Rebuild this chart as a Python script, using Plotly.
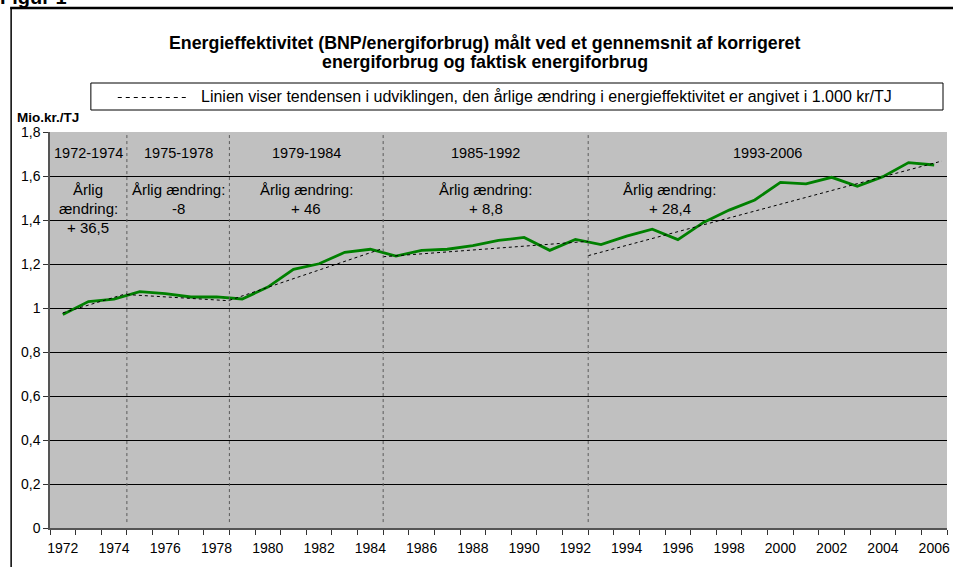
import plotly.graph_objects as go

# ---------------- data ----------------
years = list(range(1972, 2007))
efficiency = [0.970, 1.029, 1.040, 1.074, 1.065, 1.050, 1.051, 1.041, 1.095, 1.176,
              1.201, 1.253, 1.267, 1.236, 1.262, 1.267, 1.283, 1.307, 1.321, 1.262,
              1.312, 1.288, 1.327, 1.358, 1.311, 1.389, 1.445, 1.491, 1.571, 1.564,
              1.594, 1.553, 1.597, 1.661, 1.650]
period_start = [1972, 1975, 1979, 1985, 1993]
period_end = [1974, 1978, 1984, 1992, 2006]
period_labels = ["1972-1974", "1975-1978", "1979-1984", "1985-1992", "1993-2006"]
change_labels = [["Årlig", "ændring:", "+ 36,5"],
                 ["Årlig ændring:", "-8"],
                 ["Årlig ændring:", "+ 46"],
                 ["Årlig ændring:", "+ 8,8"],
                 ["Årlig ændring:", "+ 28,4"]]
# trend lines: start/end year and value for each period
trend_x0 = [1972.0, 1974.5, 1978.5, 1984.5, 1992.5]
trend_y0 = [0.978, 1.061, 1.035, 1.233, 1.238]
trend_x1 = [1974.5, 1978.5, 1984.5, 1992.5, 2006.3]
trend_y1 = [1.066, 1.033, 1.271, 1.303, 1.668]
title_lines = ["Energieffektivitet (BNP/energiforbrug) målt ved et gennemsnit af korrigeret",
               "energiforbrug og faktisk energiforbrug"]
legend_text = ("Linien viser tendensen i udviklingen, den årlige ændring i "
               "energieffektivitet er angivet i 1.000 kr/TJ")
y_unit = "Mio.kr./TJ"

# ---------------- layout geometry ----------------
W, H = 953, 567
L, R, T, B = 50, 950, 132, 528
FONT = "Arial, 'Liberation Sans', sans-serif"


def xp(px):
    return (px - L) / (R - L)


def yp(py):
    return (B - py) / (B - T)


def xd(px):
    return 1971.5 + (px - L) / (R - L) * 35


fig = go.Figure()

fig.add_trace(go.Scatter(x=years, y=efficiency, mode="lines",
                         line=dict(color="#008000", width=2.8),
                         showlegend=False, hoverinfo="x+y"))

for x0, y0, x1, y1 in zip(trend_x0, trend_y0, trend_x1, trend_y1):
    fig.add_trace(go.Scatter(x=[x0, x1], y=[y0, y1], mode="lines",
                             line=dict(color="black", width=1, dash="3px,3px"),
                             showlegend=False, hoverinfo="skip"))

shapes = []
for e in period_end[:-1]:
    shapes.append(dict(type="line", xref="x", yref="y", x0=e + 0.5, x1=e + 0.5,
                       y0=0.027, y1=1.79, line=dict(color="#5a5a5a", width=1, dash="dot")))

# legend box
shapes.append(dict(type="rect", xref="paper", yref="paper", x0=xp(91), x1=xp(946),
                   y0=yp(110), y1=yp(83), line=dict(color="black", width=1),
                   fillcolor="white"))
shapes.append(dict(type="line", xref="paper", yref="paper", x0=xp(118), x1=xp(187),
                   y0=yp(97.5), y1=yp(97.5), line=dict(color="black", width=1, dash="4px,4px")))
# outer frame
shapes.append(dict(type="line", xref="paper", yref="paper", x0=xp(10), x1=xp(970),
                   y0=yp(8), y1=yp(8), line=dict(color="black", width=2.5)))
shapes.append(dict(type="line", xref="paper", yref="paper", x0=xp(11), x1=xp(11),
                   y0=yp(8), y1=yp(600), line=dict(color="black", width=1.5)))

ann = []
for k, (tl, ty) in enumerate(zip(title_lines, [43, 62])):
    ann.append(dict(text="<b>" + tl + "</b>", xref="paper", yref="paper", x=xp(486), y=yp(ty),
                    xanchor="center", yanchor="middle", showarrow=False,
                    font=dict(family=FONT, size=17.8, color="black")))
ann.append(dict(text=legend_text, xref="paper", yref="paper", x=xp(199), y=yp(97),
                xanchor="left", yanchor="middle", showarrow=False,
                font=dict(family=FONT, size=16, color="black")))
ann.append(dict(text="<b>" + y_unit + "</b>", xref="paper", yref="paper", x=xp(15), y=yp(117.5),
                xanchor="left", yanchor="middle", showarrow=False,
                font=dict(family=FONT, size=13.5, color="black")))
ann.append(dict(text="<b>Figur 1</b>", xref="paper", yref="paper", x=xp(-2), y=yp(10),
                xanchor="left", yanchor="bottom", showarrow=False,
                font=dict(family=FONT, size=20, color="black")))

for i, (s, e) in enumerate(zip(period_start, period_end)):
    cx = (s + e) / 2
    ann.append(dict(text=period_labels[i], xref="x", yref="paper", x=cx, y=yp(153),
                    xanchor="center", yanchor="middle", showarrow=False,
                    font=dict(family=FONT, size=14.5, color="black")))
    tx = cx if i < 4 else xd(672)
    for j, line in enumerate(change_labels[i]):
        ann.append(dict(text=line, xref="x", yref="paper", x=tx, y=yp(189 + 19 * j),
                        xanchor="center", yanchor="middle", showarrow=False,
                        font=dict(family=FONT, size=15, color="black")))

fig.update_layout(
    width=W, height=H,
    margin=dict(l=L, r=W - R, t=T, b=H - B, pad=0),
    paper_bgcolor="white", plot_bgcolor="#c0c0c0",
    separators=",.",
    font=dict(family=FONT, size=14, color="black"),
    shapes=shapes, annotations=ann,
    showlegend=False,
)
fig.update_xaxes(range=[1971.5, 2006.5], tickvals=list(range(1972, 2007, 2)),
                 ticks="outside", ticklen=6, tickcolor="rgba(0,0,0,0)",
                 showgrid=False, zeroline=False, showline=True,
                 linecolor="#555", linewidth=1.5,
                 minor=dict(ticks="outside", tick0=1971.5, dtick=1, ticklen=5,
                            tickcolor="#333", showgrid=False),
                 tickfont=dict(family=FONT, size=14, color="black"))
fig.update_yaxes(range=[0, 1.8], dtick=0.2, tick0=0, ticks="outside", ticklen=5,
                 tickcolor="#333", showgrid=True, gridcolor="black", gridwidth=1,
                 zeroline=False, showline=True, linecolor="#555", linewidth=1.5,
                 tickfont=dict(family=FONT, size=14, color="black"))

fig.write_html("out.html", config={"displayModeBar": False},
               post_script="document.body.style.margin='0';document.body.style.overflow='hidden';")
